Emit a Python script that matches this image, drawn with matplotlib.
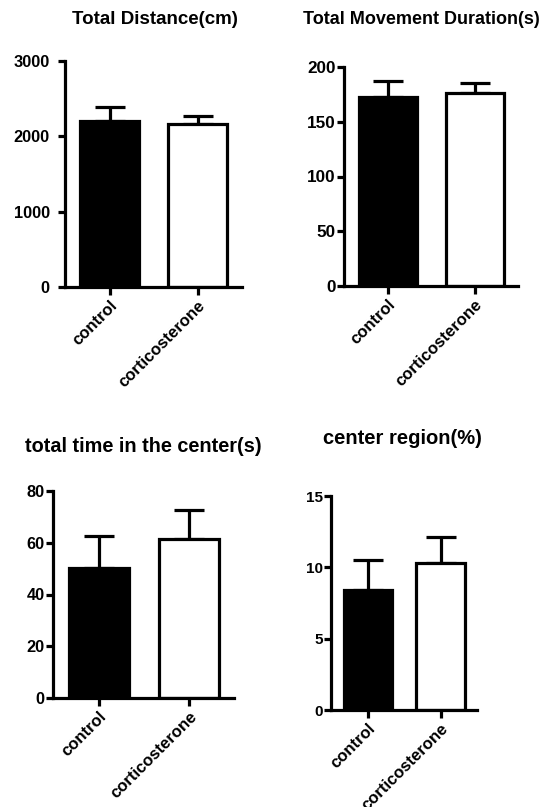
import numpy as np
import matplotlib
matplotlib.use('Agg')
import matplotlib.pyplot as plt

# Dados ---------------------------------------------------------

grupos = ['control', 'corticosterone']

dist_media = [2200, 2160]
dist_erro = [190, 110]

duracao_media = [173, 176]
duracao_erro = [14, 9]

tempo_centro_media = [50.2, 61.5]
tempo_centro_erro = [12.6, 11.2]

regiao_centro_media = [8.4, 10.3]
regiao_centro_erro = [2.1, 1.8]

titulos = ['Total Distance(cm)', 'Total Movement Duration(s)',
           'total time in the center(s)', 'center region(%)']

yticks_dist = [0, 1000, 2000, 3000]
yticks_duracao = [0, 50, 100, 150, 200]
yticks_tempo = [0, 20, 40, 60, 80]
yticks_regiao = [0, 5, 10, 15]

# Figura --------------------------------------------------------

plt.rcParams['font.family'] = ['Liberation Sans', 'DejaVu Sans']
plt.rcParams['font.weight'] = 'bold'

W, H = 542, 807
fig = plt.figure(figsize=(W / 100, H / 100), dpi=100)

lw = 2.3

# caixa dos eixos em pixels: esquerda, baixo, direita, topo
caixas = [(65, 287, 242, 61),
          (344, 286, 518, 67),
          (53, 698, 234, 491),
          (331, 710, 477, 496)]

# posicao do titulo em pixels (centro) e tamanho
pos_titulos = [(155, 20), (421, 20), (143, 447), (402, 439)]
tam_titulos = [13.5, 13, 14.3, 14.5]
tam_ticks = [11.8, 12.3, 11.8, 11]
pad_y = [6, 1, 1, 1]

medias = [dist_media, duracao_media, tempo_centro_media, regiao_centro_media]
erros = [dist_erro, duracao_erro, tempo_centro_erro, regiao_centro_erro]
yticks = [yticks_dist, yticks_duracao, yticks_tempo, yticks_regiao]

for i in range(4):
    l, b, r, t = caixas[i]
    ax = fig.add_axes([l / W, (H - b) / H, (r - l) / W, (b - t) / H])

    x = np.arange(len(grupos))
    m = medias[i]
    e = erros[i]

    ax.errorbar(x, m, yerr=[[0, 0], e], fmt='none', ecolor='black',
                elinewidth=lw, capsize=11, capthick=lw, zorder=1)
    ax.bar(x, m, width=0.67, color=['black', 'white'], edgecolor='black',
           linewidth=lw, zorder=2)

    ax.set_xlim(-0.51, 1.5)
    ax.set_ylim(0, yticks[i][-1])
    ax.set_yticks(yticks[i])
    ax.set_xticks(x)
    ax.set_xticklabels(grupos, rotation=45, ha='right', va='top',
                       rotation_mode='anchor', fontsize=12, fontweight='bold')
    ax.tick_params(axis='y', labelsize=tam_ticks[i], length=5, width=lw, pad=pad_y[i])
    ax.tick_params(axis='x', length=6, width=lw, pad=2)
    for lab in ax.get_yticklabels():
        lab.set_fontweight('bold')

    ax.spines['top'].set_visible(False)
    ax.spines['right'].set_visible(False)
    ax.spines['left'].set_linewidth(lw)
    ax.spines['bottom'].set_linewidth(lw)

    tx, ty = pos_titulos[i]
    fig.text(tx / W, 1 - ty / H, titulos[i], ha='center', va='center',
             fontsize=tam_titulos[i], fontweight='bold')

fig.savefig('out.png', dpi=100)
